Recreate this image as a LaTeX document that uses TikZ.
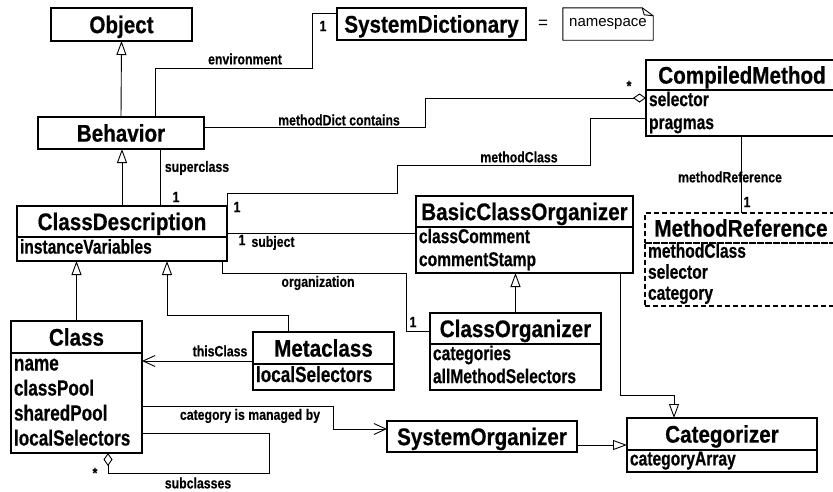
\documentclass[tikz,border=0pt]{standalone}
\usepackage{fontspec}
\setmainfont{Liberation Sans}
\newfontfamily\titlefont{Liberation Sans}[FakeStretch=0.86, BoldFeatures={FakeBold=0.6}]
\newfontfamily\attrfont{Liberation Sans}[FakeStretch=0.78, BoldFeatures={FakeBold=0.5}]
\newfontfamily\labelfont{Liberation Sans}[FakeStretch=0.82, BoldFeatures={FakeBold=0.3}]
\usetikzlibrary {arrows.meta, positioning}

\begin{document}
\begin{tikzpicture}[
    x=1pt, y=-1pt,
    umlbox/.style={draw, line width=1.3pt, outer sep=0pt, inner sep=0pt},
    classname/.style={umlbox, font=\titlefont\bfseries\fontsize{24}{28}\selectfont,
        text height=17.2pt, text depth=0pt, anchor=north west},
    attrs/.style={umlbox, font=\attrfont\bfseries\fontsize{20}{23}\selectfont,
        align=left, text width=#1, inner xsep=3pt,
        execute at begin node=\strut, execute at end node=\strut},
    bigattrs/.style={attrs=#1, font=\attrfont\bfseries\fontsize{22}{25}\selectfont},
    virtual/.style={dash pattern=on 5pt off 3pt},
    link/.style={line width=0.9pt},
    inherit/.style={link, -{Triangle[open, length=14pt, width=10pt]}},
    navig/.style={link, -{Straight Barb[length=12pt, width=11pt]}},
    aggreg/.style={link, -{Diamond[open, length=13pt, width=9pt]}},
    role/.style={font=\labelfont\bfseries\fontsize{15}{17}\selectfont, inner sep=0pt},
]
    \useasboundingbox (0,0) rectangle (833,491);

    % classes
    \node[classname, minimum width=141pt, minimum height=33pt] (object) at (51,8) {Object};
    \node[classname, minimum width=166pt, minimum height=32pt] (behavior) at (38,117) {Behavior};
    \node[classname, minimum width=189pt, minimum height=32pt] (sysdict) at (337,8) {SystemDictionary};

    \node[classname, minimum width=192pt, minimum height=30pt] (cm) at (646,60) {CompiledMethod};
    \node[attrs=186pt, minimum height=46pt, below=0pt of cm] (cmA) {selector\\pragmas};

    \node[classname, virtual, minimum width=192pt, minimum height=30pt] (mr) at (645,213) {MethodReference};
    \node[attrs=186pt, virtual, minimum height=62pt, below=0pt of mr,
        font=\attrfont\bfseries\fontsize{20}{21}\selectfont] (mrA) {methodClass\\selector\\category};

    \node[classname, minimum width=210pt, minimum height=31pt] (cd) at (17,206) {ClassDescription};
    \node[attrs=204pt, minimum height=24pt, below=0pt of cd] (cdA) {instanceVariables};

    \node[classname, minimum width=217pt, minimum height=31pt] (bco) at (416,196) {BasicClassOrganizer};
    \node[attrs=211pt, minimum height=45pt, below=0pt of bco] (bcoA) {classComment\\commentStamp};

    \node[classname, minimum width=171pt, minimum height=31pt] (co) at (430,313) {ClassOrganizer};
    \node[attrs=165pt, minimum height=46pt, below=0pt of co] (coA) {categories\\allMethodSelectors};

    \node[classname, minimum width=131pt, minimum height=32pt] (class) at (11,321) {Class};
    \node[bigattrs=125pt, minimum height=100pt, below=0pt of class] (classA) {name\\classPool\\sharedPool\\localSelectors};

    \node[classname, minimum width=141pt, minimum height=32pt] (meta) at (253,332) {Metaclass};
    \node[bigattrs=135pt, minimum height=26pt, below=0pt of meta] (metaA) {localSelectors};

    \node[classname, minimum width=190pt, minimum height=31pt] (sysorg) at (387,421) {SystemOrganizer};

    \node[classname, minimum width=190pt, minimum height=32pt] (cat) at (627,418) {Categorizer};
    \node[attrs=184pt, minimum height=22pt, below=0pt of cat,
        font=\attrfont\bfseries\fontsize{20}{22}\selectfont] (catA) {categoryArray};

    % note
    \node[font=\fontsize{17}{20}\selectfont] (eq) at (543,24) {=};
    \node[font=\fontsize{15}{18}\selectfont, minimum width=90pt, minimum height=32pt, inner sep=0pt] (ns) at (608,24) {namespace};
    \draw[link] (ns.north west) -- ([xshift=-11pt]ns.north east) -- ([yshift=-8pt]ns.north east)
        -- (ns.south east) -- (ns.south west) -- cycle;
    \draw[link] ([xshift=-11pt]ns.north east) -- ++(2,7) -- ([yshift=-8pt]ns.north east);

    % generalisations
    \draw[inherit] (behavior.north) -- (object.south);
    \draw[inherit] (cd.north) -- (cd.north |- behavior.south);
    \draw[inherit] (class.north) -- (class.north |- cdA.south);
    \draw[inherit] ([xshift=-35.5pt]meta.north) |- (167,315) -- (167,315 |- cdA.south);
    \draw[inherit] (co.north) -- (co.north |- bcoA.south);
    \draw[inherit] (bcoA.south -| 620,0) |- (674,395) -- (674,395 |- cat.north);
    \draw[inherit] (sysorg.east |- 0,445) -- (cat.west |- 0,445);

    % associations
    \draw[link] ([xshift=34pt]behavior.north) |- (312,68) |- (sysdict.west |- 0,13);
    \draw[aggreg] ([yshift=6pt]behavior.east) -| (425,98) -- (cm.west |- 0,98);
    \draw[link] (cmA.west |- 0,118) -| (590,165) -| (397,193) -| (cd.north east);
    \draw[link] (cmA.south -| 741,0) -- (mr.north -| 741,0);
    \draw[link] (behavior.south -| 160,0) -- (cd.north -| 160,0);
    \draw[link] (cdA.east |- 0,233) -- (bcoA.west |- 0,233);
    \draw[link] ([xshift=-5pt]cdA.south east) |- (406,273) |- (co.west |- 0,331);
    \draw[navig] (meta.west |- 0,361) -- (class.east |- 0,361);
    \draw[navig] (classA.east |- 0,406) -| (333,429) -- (sysorg.west |- 0,429);
    \draw[aggreg] (classA.east |- 0,433) -| (269,473) -| ([xshift=31.5pt]classA.south);

    % roles and multiplicities
    \node[role] (lenv)  at (245,59)  {environment};
    \node[role] (menv)  at (323,26)  {1};
    \node[role] (ldict) at (339,120) {methodDict contains};
    \node[role] (mdict) at (629,86)  {*};
    \node[role] (lmcls) at (519,157) {methodClass};
    \node[role] (mmcls) at (237,207) {1};
    \node[role] (lmref) at (730,177) {methodReference};
    \node[role] (mmref) at (747,202) {1};
    \node[role] (lsup)  at (197,168) {superclass};
    \node[role] (msup)  at (176,197) {1};
    \node[role] (lsub)  at (273,243) {subject};
    \node[role] (msub)  at (242,240) {1};
    \node[role] (lorg)  at (318,283) {organization};
    \node[role] (morg)  at (413,322) {1};
    \node[role] (lthis) at (220,351) {thisClass};
    \node[role] (lcat)  at (250,416) {category is managed by};
    \node[role] (lsubs) at (198,483) {subclasses};
    \node[role] (msubs) at (95,473)  {*};
\end{tikzpicture}
\end{document}
